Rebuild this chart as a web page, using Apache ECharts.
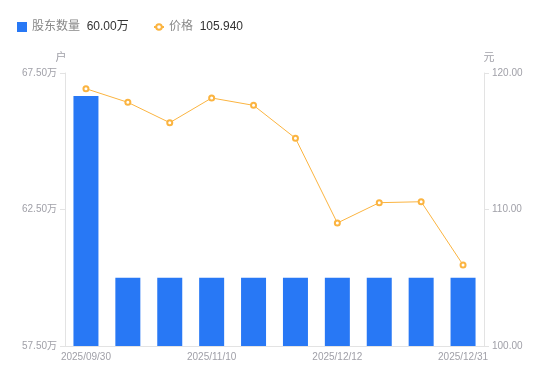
<!DOCTYPE html>
<html><head><meta charset="utf-8">
<script src="https://cdn.jsdelivr.net/npm/echarts@6/dist/echarts.min.js"></script>
<style>html,body{margin:0;padding:0;background:#fff}#c{width:550px;height:381px}</style>
</head><body><div id="c"></div>
<script>
const categories = ['2025/09/30','2025/10/10','2025/10/20','2025/11/10','2025/11/20','2025/11/30','2025/12/12','2025/12/20','2025/12/26','2025/12/31'];
const holders = [666600, 600000, 600000, 600000, 600000, 600000, 600000, 600000, 600000, 600000];
const prices = [118.85, 117.85, 116.36, 118.17, 117.63, 115.22, 109.01, 110.50, 110.57, 105.94];
const leftTicks = [575000, 625000, 675000];
const rightTicks = [100, 110, 120];

const font = '"Liberation Sans", "Noto Sans CJK SC", sans-serif';
const chart = echarts.init(document.getElementById('c'));
const lastVals = {'股东数量': (holders[holders.length-1]/10000).toFixed(2) + '万', '价格': prices[prices.length-1].toFixed(3)};
const legendText = {
  formatter: n => '{n|' + n + '}  {v|' + lastVals[n] + '}',
  textStyle: {fontFamily: font, rich: {n: {color: '#888', fontSize: 12, fontFamily: font}, v: {color: '#333', fontSize: 12, fontFamily: font}}}
};
chart.setOption({
  animation: false,
  textStyle: {fontFamily: font},
  legend: [Object.assign({
    left: 12, top: 16, itemWidth: 10, itemHeight: 10,
    data: [{name: '股东数量', icon: 'rect'}]
  }, legendText), Object.assign({
    left: 148, top: 16, itemWidth: 10, itemHeight: 7,
    data: [{name: '价格'}]
  }, legendText)],
  grid: {left: 65, right: 66, top: 73, bottom: 35},
  xAxis: {
    type: 'category', data: categories,
    axisLine: {lineStyle: {color: '#e3e3e3'}},
    axisTick: {show: false},
    axisLabel: {color: '#a0a0a8', fontSize: 10, interval: 2, margin: 6, fontFamily: font}
  },
  yAxis: [{
    type: 'value', name: '户', min: leftTicks[0], max: leftTicks[2], interval: 50000,
    nameTextStyle: {color: '#a0a0a8', fontSize: 11, padding: [0, 8, 0, 0], fontFamily: font},
    nameGap: 10,
    axisLine: {show: true, lineStyle: {color: '#e3e3e3'}},
    axisTick: {show: true, length: 5, lineStyle: {color: '#e3e3e3'}},
    splitLine: {show: false},
    axisLabel: {color: '#a0a0a8', fontSize: 10, margin: 8, fontFamily: font, formatter: v => (v/10000).toFixed(2) + '万'}
  }, {
    type: 'value', name: '元', min: rightTicks[0], max: rightTicks[2], interval: 10,
    nameTextStyle: {color: '#a0a0a8', fontSize: 11, padding: [0, 0, 0, 10], fontFamily: font},
    nameGap: 10,
    axisLine: {show: true, lineStyle: {color: '#e3e3e3'}},
    axisTick: {show: true, length: 5, lineStyle: {color: '#e3e3e3'}},
    splitLine: {show: false},
    axisLabel: {color: '#a0a0a8', fontSize: 10, margin: 8, fontFamily: font, formatter: v => v.toFixed(2)}
  }],
  series: [{
    name: '股东数量', type: 'bar', data: holders, barWidth: 25, yAxisIndex: 0,
    itemStyle: {color: '#2878f5'}
  }, {
    name: '价格', type: 'line', data: prices, yAxisIndex: 1,
    symbol: 'emptyCircle', symbolSize: 5,
    lineStyle: {color: '#fbb440', width: 1},
    itemStyle: {color: '#fbb440', borderWidth: 2}
  }]
});
</script></body></html>
